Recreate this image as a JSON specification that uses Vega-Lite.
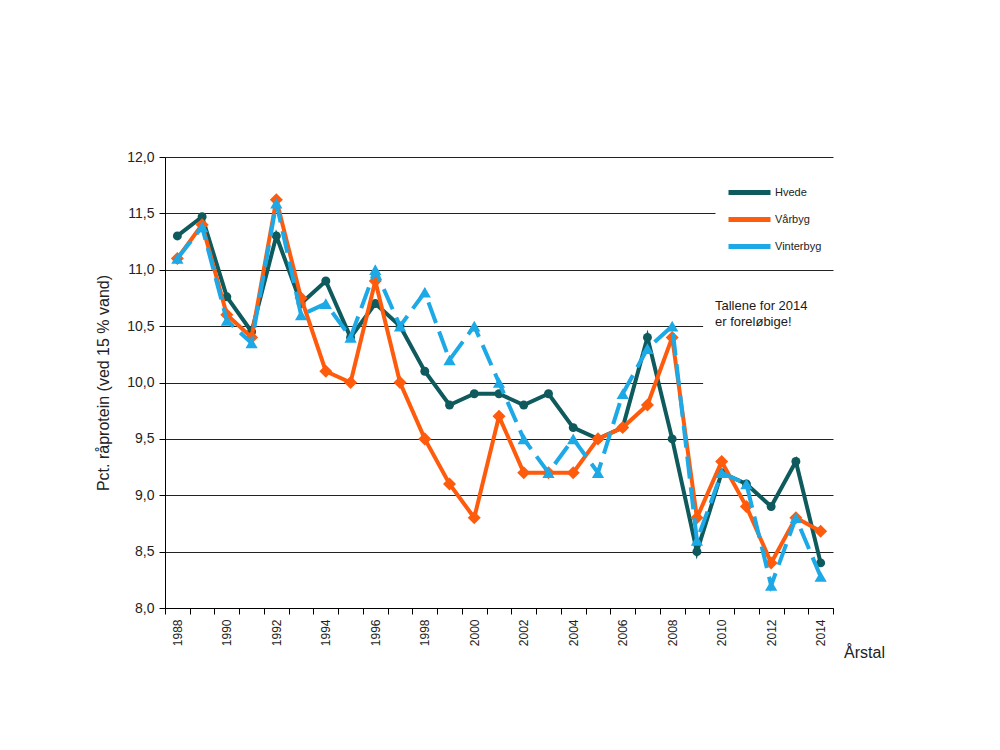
{
  "$schema": "https://vega.github.io/schema/vega-lite/v6.json",
  "width": 668,
  "height": 451,
  "autosize": {"type": "none"},
  "padding": {"left": 165, "top": 157, "right": 167, "bottom": 142},
  "background": "white",
  "config": {"font": "Liberation Sans", "view": {"stroke": null}},
  "resolve": {"axis": {"x": "independent", "y": "independent"}},
  "datasets": {
    "protein": [
      {"aar": 1988, "Hvede": 11.3, "Vårbyg": 11.1, "Vinterbyg": 11.1},
      {"aar": 1989, "Hvede": 11.47, "Vårbyg": 11.4, "Vinterbyg": 11.38},
      {"aar": 1990, "Hvede": 10.76, "Vårbyg": 10.6, "Vinterbyg": 10.55},
      {"aar": 1991, "Hvede": 10.45, "Vårbyg": 10.4, "Vinterbyg": 10.35},
      {"aar": 1992, "Hvede": 11.3, "Vårbyg": 11.62, "Vinterbyg": 11.59},
      {"aar": 1993, "Hvede": 10.7, "Vårbyg": 10.75, "Vinterbyg": 10.6},
      {"aar": 1994, "Hvede": 10.9, "Vårbyg": 10.1, "Vinterbyg": 10.7},
      {"aar": 1995, "Hvede": 10.4, "Vårbyg": 10.0, "Vinterbyg": 10.4},
      {"aar": 1996, "Hvede": 10.7, "Vårbyg": 10.9, "Vinterbyg": 11.0},
      {"aar": 1997, "Hvede": 10.5, "Vårbyg": 10.0, "Vinterbyg": 10.5},
      {"aar": 1998, "Hvede": 10.1, "Vårbyg": 9.5, "Vinterbyg": 10.8},
      {"aar": 1999, "Hvede": 9.8, "Vårbyg": 9.1, "Vinterbyg": 10.2},
      {"aar": 2000, "Hvede": 9.9, "Vårbyg": 8.8, "Vinterbyg": 10.5},
      {"aar": 2001, "Hvede": 9.9, "Vårbyg": 9.7, "Vinterbyg": 10.0},
      {"aar": 2002, "Hvede": 9.8, "Vårbyg": 9.2, "Vinterbyg": 9.5},
      {"aar": 2003, "Hvede": 9.9, "Vårbyg": 9.2, "Vinterbyg": 9.2},
      {"aar": 2004, "Hvede": 9.6, "Vårbyg": 9.2, "Vinterbyg": 9.5},
      {"aar": 2005, "Hvede": 9.5, "Vårbyg": 9.5, "Vinterbyg": 9.2},
      {"aar": 2006, "Hvede": 9.6, "Vårbyg": 9.6, "Vinterbyg": 9.9},
      {"aar": 2007, "Hvede": 10.4, "Vårbyg": 9.8, "Vinterbyg": 10.3},
      {"aar": 2008, "Hvede": 9.5, "Vårbyg": 10.4, "Vinterbyg": 10.5},
      {"aar": 2009, "Hvede": 8.5, "Vårbyg": 8.8, "Vinterbyg": 8.6},
      {"aar": 2010, "Hvede": 9.2, "Vårbyg": 9.3, "Vinterbyg": 9.2},
      {"aar": 2011, "Hvede": 9.1, "Vårbyg": 8.9, "Vinterbyg": 9.1},
      {"aar": 2012, "Hvede": 8.9, "Vårbyg": 8.4, "Vinterbyg": 8.2},
      {"aar": 2013, "Hvede": 9.3, "Vårbyg": 8.8, "Vinterbyg": 8.8},
      {"aar": 2014, "Hvede": 8.4, "Vårbyg": 8.68, "Vinterbyg": 8.28}
    ],
    "note": [{"tekst": "Tallene for 2014"}]
  },
  "layer": [
    {
      "data": {"name": "protein"},
      "mark": {"type": "line", "strokeWidth": 4, "strokeCap": "butt"},
      "encoding": {
        "x": {
          "field": "aar",
          "type": "quantitative",
          "scale": {"domain": [1987.5, 2014.5], "nice": false, "zero": false},
          "axis": {
            "values": [1987.5, 1988, 1988.5, 1989, 1989.5, 1990, 1990.5, 1991, 1991.5, 1992, 1992.5, 1993, 1993.5, 1994, 1994.5, 1995, 1995.5, 1996, 1996.5, 1997, 1997.5, 1998, 1998.5, 1999, 1999.5, 2000, 2000.5, 2001, 2001.5, 2002, 2002.5, 2003, 2003.5, 2004, 2004.5, 2005, 2005.5, 2006, 2006.5, 2007, 2007.5, 2008, 2008.5, 2009, 2009.5, 2010, 2010.5, 2011, 2011.5, 2012, 2012.5, 2013, 2013.5, 2014, 2014.5],
            "labelExpr": "datum.value % 2 === 0 ? toString(datum.value) : ''",
            "labelAngle": 270,
            "labelFontSize": 12,
            "labelColor": "#222222",
            "labelPadding": 5,
            "labelOverlap": false,
            "labelBound": false,
            "labelFlush": false,
            "tickOpacity": {"condition": {"test": "datum.value % 1 === 0", "value": 0}, "value": 1},
            "tickSize": 6,
            "tickColor": "#000000",
            "domainColor": "#000000",
            "grid": false,
            "title": "Årstal",
            "titleFontSize": 16,
            "titleFontWeight": "normal",
            "titleColor": "#222222",
            "titleX": 699,
            "titleY": 44,
            "titleAlign": "center",
            "titleBaseline": "middle"
          }
        },
        "y": {
          "field": "Hvede",
          "type": "quantitative",
          "scale": {"domain": [8, 12], "nice": false, "zero": false},
          "axis": {
            "values": [8, 8.5, 9, 9.5, 10, 10.5, 11, 11.5, 12],
            "labelExpr": "replace(format(datum.value, '.1f'), '.', ',')",
            "labelFontSize": 14,
            "labelColor": "#222222",
            "labelPadding": 5,
            "tickSize": 6,
            "tickColor": "#000000",
            "domainColor": "#000000",
            "grid": true,
            "gridColor": "#222222",
            "gridWidth": 1.2,
            "title": "Pct. råprotein (ved 15 % vand)",
            "titleFontSize": 16,
            "titleFontWeight": "normal",
            "titleColor": "#222222",
            "titlePadding": 15
          }
        },
        "color": {
          "datum": "Hvede",
          "type": "nominal",
          "scale": {"domain": ["Hvede", "Vårbyg", "Vinterbyg"], "range": ["#0E5A5C", "#FF5B0D", "#1DA8E6"]},
          "legend": {
            "title": null,
            "orient": "none",
            "legendX": 568,
            "legendY": 19,
            "padding": 0,
            "symbolType": "M-1.5,0L1.5,0",
            "symbolSize": 784,
            "symbolStrokeWidth": 5,
            "labelFontSize": 11,
            "labelColor": "#222222",
            "rowPadding": 0,
            "labelOffset": 9
          }
        }
      }
    },
    {
      "data": {"name": "protein"},
      "mark": {"type": "point", "shape": "circle", "filled": true, "opacity": 1, "size": 80, "color": "#0E5A5C"},
      "encoding": {
        "x": {"field": "aar", "type": "quantitative", "axis": null},
        "y": {"field": "Hvede", "type": "quantitative", "axis": null}
      }
    },
    {
      "data": {"name": "protein"},
      "mark": {"type": "line", "strokeWidth": 4, "strokeCap": "butt"},
      "encoding": {
        "x": {"field": "aar", "type": "quantitative", "axis": null},
        "y": {"field": "Vårbyg", "type": "quantitative", "axis": null},
        "color": {"datum": "Vårbyg", "type": "nominal"}
      }
    },
    {
      "data": {"name": "protein"},
      "mark": {"type": "point", "shape": "diamond", "filled": true, "opacity": 1, "size": 170, "color": "#FF5B0D"},
      "encoding": {
        "x": {"field": "aar", "type": "quantitative", "axis": null},
        "y": {"field": "Vårbyg", "type": "quantitative", "axis": null}
      }
    },
    {
      "data": {"name": "protein"},
      "mark": {"type": "line", "strokeWidth": 4, "strokeCap": "butt", "strokeDash": [22, 9]},
      "encoding": {
        "x": {"field": "aar", "type": "quantitative", "axis": null},
        "y": {"field": "Vinterbyg", "type": "quantitative", "axis": null},
        "color": {"datum": "Vinterbyg", "type": "nominal"}
      }
    },
    {
      "data": {"name": "protein"},
      "mark": {"type": "point", "shape": "triangle-up", "filled": true, "opacity": 1, "size": 150, "color": "#1DA8E6"},
      "encoding": {
        "x": {"field": "aar", "type": "quantitative", "axis": null},
        "y": {"field": "Vinterbyg", "type": "quantitative", "axis": null}
      }
    },
    {
      "data": {"name": "note"},
      "mark": {"type": "rect", "color": "white"},
      "encoding": {
        "x": {"datum": 2009.25, "type": "quantitative", "axis": null},
        "x2": {"datum": 2014.6},
        "y": {"datum": 10.85, "type": "quantitative", "axis": null},
        "y2": {"datum": 9.75}
      }
    },
    {
      "data": {"name": "note"},
      "mark": {"type": "rect", "color": "white"},
      "encoding": {
        "x": {"datum": 2009.75, "type": "quantitative", "axis": null},
        "x2": {"datum": 2014.6},
        "y": {"datum": 11.8, "type": "quantitative", "axis": null},
        "y2": {"datum": 11.15}
      }
    },
    {
      "data": {"name": "note"},
      "mark": {"type": "text", "align": "left", "baseline": "top", "fontSize": 13, "lineHeight": 16, "color": "#1a1a1a"},
      "encoding": {
        "x": {"datum": 2009.73, "type": "quantitative", "axis": null},
        "y": {"datum": 10.73, "type": "quantitative", "axis": null},
        "text": {"value": ["Tallene for 2014", "er foreløbige!"]}
      }
    }
  ]
}
